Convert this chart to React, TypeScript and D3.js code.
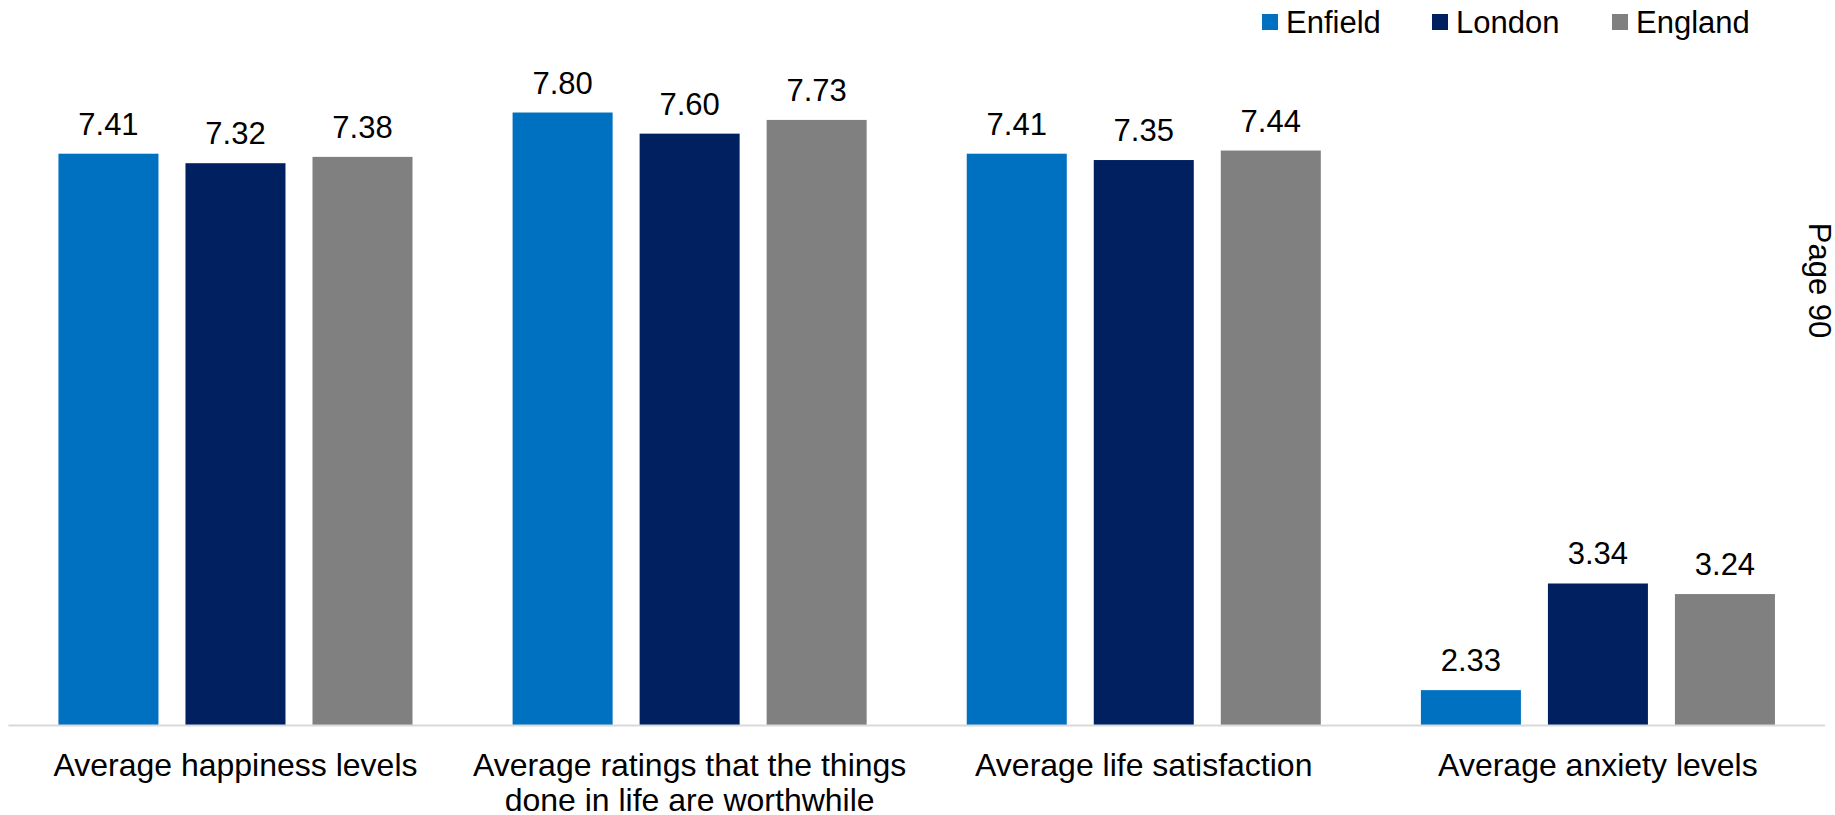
import React from "react";
import * as d3 from "d3";

const categories: string[][] = [
  ["Average happiness levels"],
  ["Average ratings that the things", "done in life are worthwhile"],
  ["Average life satisfaction"],
  ["Average anxiety levels"],
];
const seriesNames = ["Enfield", "London", "England"];
const enfield = [7.41, 7.8, 7.41, 2.33];
const london = [7.32, 7.6, 7.35, 3.34];
const england = [7.38, 7.73, 7.44, 3.24];
const seriesValues = [enfield, london, england];
const colors = ["#0070C0", "#002060", "#808080"];
const yMin = 2;
const yMax = 8;
const pageLabel = "Page 90";

const W = 1835;
const H = 815;
const FONT = "'Liberation Sans', Arial, sans-serif";

export default function App() {
  const x0 = d3
    .scaleBand<number>()
    .domain(d3.range(categories.length))
    .range([8.4, 1825]);
  const x1 = d3
    .scaleBand<number>()
    .domain(d3.range(seriesNames.length))
    .range([0, x0.bandwidth()])
    .paddingInner(0.2126)
    .paddingOuter(0.394);
  const y = d3.scaleLinear().domain([yMin, yMax]).range([725, 91.4]);
  const base = y(yMin);

  const legendX = [1262, 1432, 1612];

  return (
    <svg
      width={W}
      height={H}
      style={{ position: "absolute", left: 0, top: 0, background: "#fff" }}
      fontFamily={FONT}
    >
      {categories.map((cat, ci) => (
        <g key={ci} transform={`translate(${x0(ci)},0)`}>
          {seriesValues.map((vals, si) => {
            const v = vals[ci];
            const bx = x1(si)!;
            const bw = x1.bandwidth();
            return (
              <g key={si}>
                <rect
                  x={bx}
                  y={y(v)}
                  width={bw}
                  height={base - y(v)}
                  fill={colors[si]}
                />
                <text
                  x={bx + bw / 2}
                  y={y(v) - 19}
                  textAnchor="middle"
                  fontSize={31}
                  fill="#000"
                >
                  {v.toFixed(2)}
                </text>
              </g>
            );
          })}
          {cat.map((line, li) => (
            <text
              key={li}
              x={x0.bandwidth() / 2}
              y={775.5 + li * 35.5}
              textAnchor="middle"
              fontSize={32}
              fill="#000"
            >
              {line}
            </text>
          ))}
        </g>
      ))}
      <line x1={8.4} x2={1825} y1={base + 0.5} y2={base + 0.5} stroke="#D9D9D9" strokeWidth={2} />
      {seriesNames.map((name, si) => (
        <g key={name}>
          <rect x={legendX[si]} y={14} width={16} height={16} fill={colors[si]} />
          <text x={legendX[si] + 24} y={33} fontSize={31} fill="#000">
            {name}
          </text>
        </g>
      ))}
      <text
        transform="translate(1809,280.5) rotate(90)"
        textAnchor="middle"
        fontSize={31}
        fill="#000"
      >
        {pageLabel}
      </text>
    </svg>
  );
}
